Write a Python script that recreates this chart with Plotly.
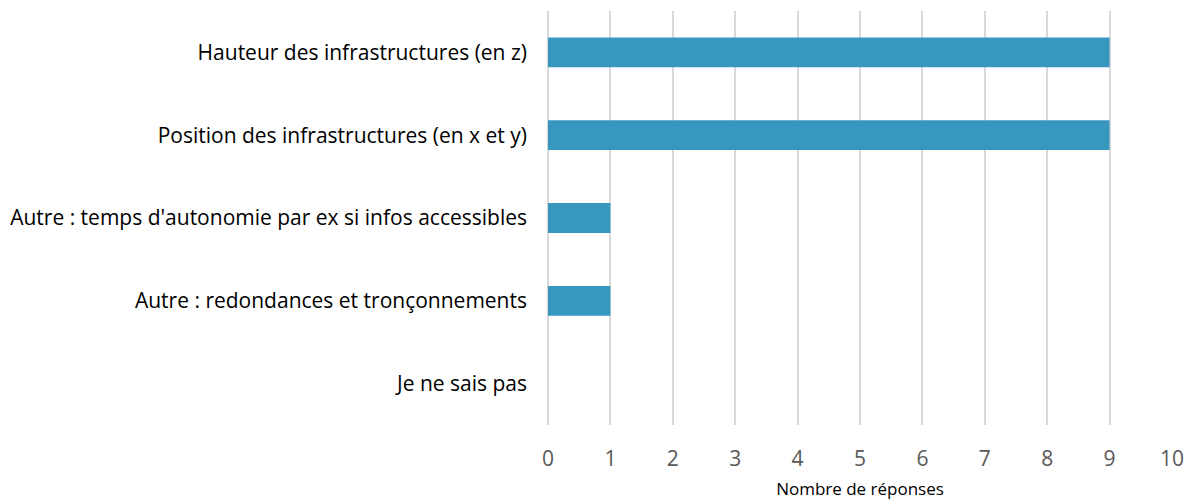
import plotly.graph_objects as go

# Réponses par type de donnée utile
categories = [
    "Hauteur des infrastructures (en z)",
    "Position des infrastructures (en x et y)",
    "Autre : temps d'autonomie par ex si infos accessibles",
    "Autre : redondances et tronçonnements",
    "Je ne sais pas",
]
counts = [9, 9, 1, 1, 0]
x_ticks = list(range(0, 11))

fig = go.Figure(
    go.Bar(
        x=counts,
        y=categories,
        orientation="h",
        marker=dict(color="#3797BE", line=dict(width=0)),
        width=0.36,
    )
)

fig.update_layout(
    width=1195,
    height=500,
    margin=dict(l=548, r=23, t=11, b=75),
    plot_bgcolor="white",
    paper_bgcolor="white",
    showlegend=False,
    font=dict(family="Open Sans", color="#000000"),
)

fig.update_xaxes(
    range=[0, 10],
    tickvals=x_ticks,
    automargin=False,
    showgrid=True,
    gridcolor="#D9D9D9",
    gridwidth=2,
    zeroline=True,
    zerolinecolor="#D9D9D9",
    zerolinewidth=2,
    showline=False,
    tickfont=dict(size=21, color="#595959"),
    ticklabelstandoff=19,
    title=dict(text="Nombre de réponses", font=dict(size=17, color="#000000"), standoff=13),
)

fig.update_yaxes(
    categoryorder="array",
    categoryarray=categories[::-1],
    autorange=False,
    range=[-0.5, 4.5],
    automargin=False,
    showgrid=False,
    zeroline=False,
    showline=False,
    tickfont=dict(size=21, color="#000000"),
    ticklabelstandoff=20,
)

fig.write_html("out.html")
